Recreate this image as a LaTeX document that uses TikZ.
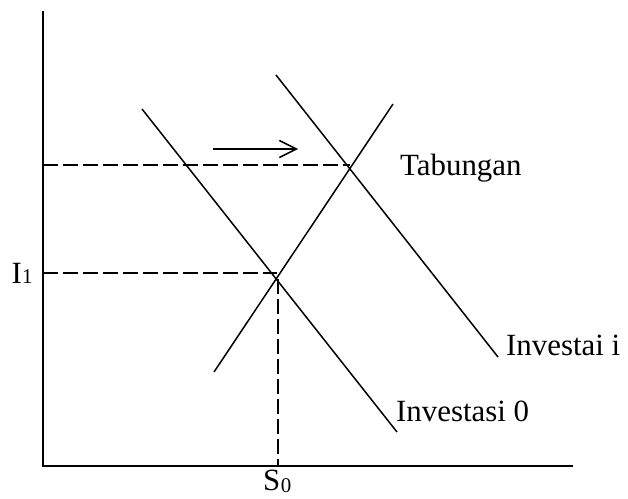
\documentclass[tikz,border=0pt]{standalone}
\usepackage{fontspec}
\setmainfont{Liberation Serif}
\usetikzlibrary{arrows.meta}
\begin{document}
\begin{tikzpicture}[x=1bp,y=-1bp,
  axis/.style={line width=2bp},
  curve/.style={line width=1.5bp},
  guide/.style={line width=1.5bp,dash pattern=on 15bp off 5bp},
  lbl/.style={font=\fontsize{31}{34}\selectfont,inner sep=0pt},
  subs/.style={font=\fontsize{21}{24}\selectfont,inner sep=0pt}]
\useasboundingbox (0,0) rectangle (628,499);
% axes
\coordinate (O) at (43,466);
\coordinate (ytop) at (43,11);
\coordinate (xend) at (573,466);
\draw[axis] (ytop) -- (O) -- (xend);
% curves
\coordinate (i0a) at (142,109);
\coordinate (i0b) at (397,432);
\coordinate (iia) at (276,75);
\coordinate (iib) at (498,357);
\coordinate (ta) at (214,372);
\coordinate (tb) at (393,104);
\draw[curve] (i0a) -- (i0b);
\draw[curve] (iia) -- (iib);
\draw[curve] (ta) -- (tb);
% intersections
\coordinate (E0) at (277,273);
\coordinate (E0v) at (278,279);
\coordinate (E1) at (350,165);
\coordinate (I1ax) at (43,273);
\coordinate (S0ax) at (278,466);
\coordinate (T1ax) at (43,165);
\draw[guide] (I1ax) -- (E0);
\draw[guide] (E0v) -- (S0ax);
\draw[guide] (T1ax) -- (E1);
% arrow
\coordinate (arA) at (213,149);
\coordinate (arB) at (298,149);
\draw[curve,-{Straight Barb[length=17bp,width=17bp]}] (arA) -- (arB);
% labels
\node[lbl,anchor=base east] (I1) at (22,283) {I};
\node[subs,anchor=base west] (I1s) at (I1.base east) {1};
\node[lbl,anchor=base west] (S0) at (263,490) {S};
\node[subs,anchor=base west] (S0s) at ([yshift=-2bp]S0.base east) {0};
\node[lbl,anchor=base west] (tab) at (400,176) {Tabungan};
\node[lbl,anchor=base west] (invi) at (506,355) {Investai i};
\node[lbl,anchor=base west] (inv0) at (396,421) {Investasi 0};
\end{tikzpicture}
\end{document}
